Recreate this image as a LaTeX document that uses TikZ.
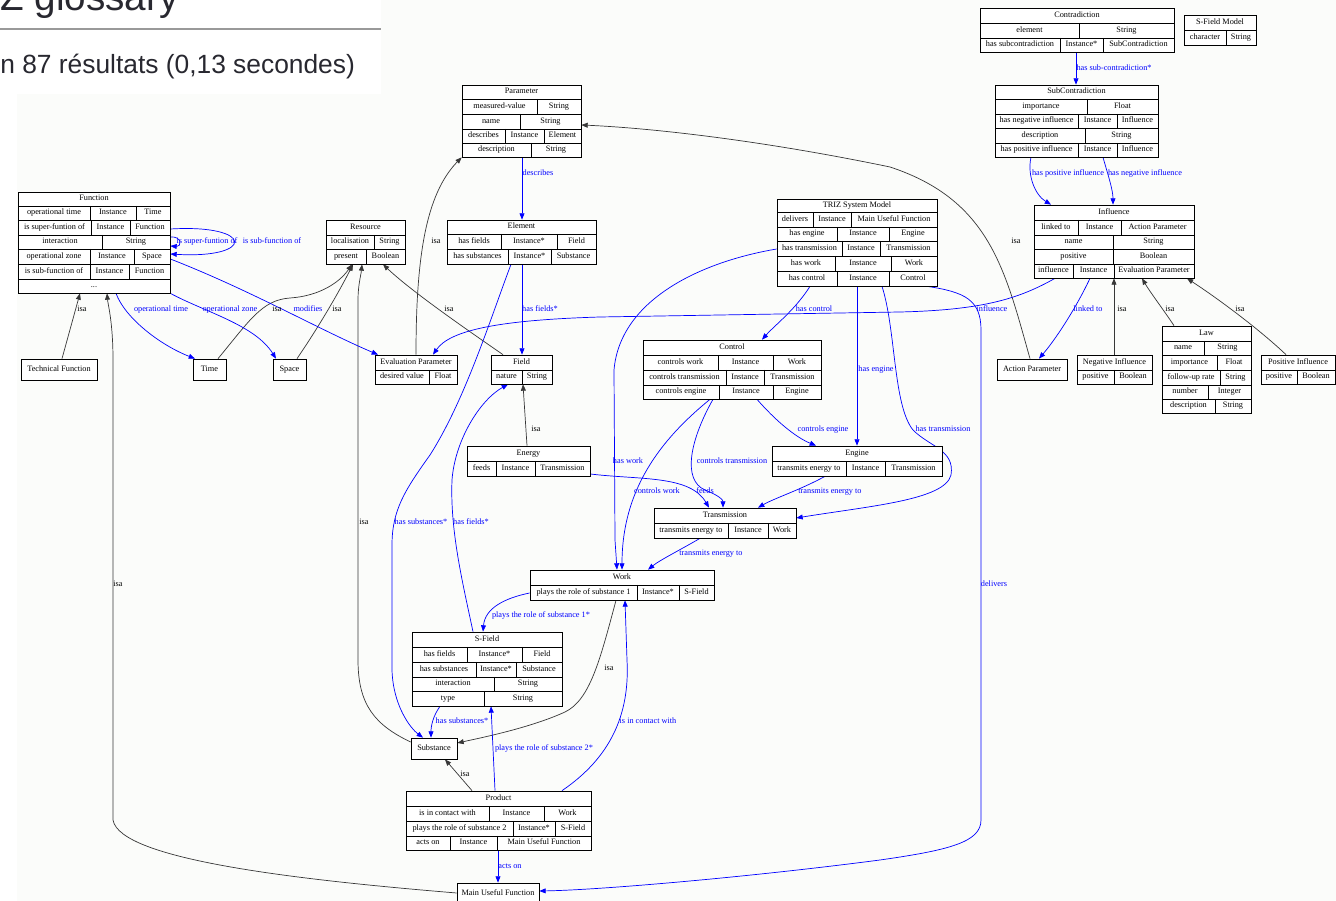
\documentclass[tikz,border=0pt]{standalone}
\usepackage{fontspec}
\setmainfont{Liberation Serif}
\newfontfamily\uisans{Liberation Sans}
\usetikzlibrary{fit,calc,arrows.meta}

\definecolor{pagebg}{RGB}{251,252,250}
\definecolor{edgeblue}{RGB}{0,0,255}
\definecolor{isagray}{RGB}{55,55,55}
\definecolor{headtext}{RGB}{40,40,48}

\newcount\cellno
\tikzset{
  cell/.style={inner sep=0pt, text height=3.3pt, text depth=1.1pt,
    font=\fontsize{4.7}{5.6}\selectfont, text=black},
  frame/.style={draw=black, line width=0.5pt, fill=white},
  prop/.style={draw=edgeblue, line width=0.4pt,
    -{Triangle[length=3.6pt,width=2.8pt]}},
  isa/.style={draw=isagray, line width=0.4pt,
    -{Triangle[length=3.6pt,width=2.8pt]}},
  lbl/.style={cell, text=edgeblue},
  isalbl/.style={cell, text=black},
}

% one text cell of a record
\newcommand\cellat[3]{\global\advance\cellno by 1\relax
  \node[cell] (cell-\the\cellno) at ({#1},{#2}) {#3};}
% record rows: one, two or three cells
\newcommand\rowI[5]{\draw[frame] (#1,#3) rectangle (#2,#4);
  \cellat{(#1+#2)/2}{(#3+#4)/2}{#5}}
\newcommand\rowII[7]{\draw[frame] (#1,#3) rectangle (#2,#4);
  \draw[frame] (#5,#3) -- (#5,#4);
  \cellat{(#1+#5)/2}{(#3+#4)/2}{#6}\cellat{(#5+#2)/2}{(#3+#4)/2}{#7}}
\newcommand\rowIII[9]{\draw[frame] (#1,#3) rectangle (#2,#4);
  \draw[frame] (#5,#3) -- (#5,#4) (#6,#3) -- (#6,#4);
  \cellat{(#1+#5)/2}{(#3+#4)/2}{#7}\cellat{(#5+#6)/2}{(#3+#4)/2}{#8}%
  \cellat{(#6+#2)/2}{(#3+#4)/2}{#9}}
% named outline of a whole record
\newcommand\recname[5]{\node[inner sep=0pt, fit={(#2,#3) (#4,#5)}] (#1) {};}

\begin{document}
\begin{tikzpicture}[x=0.02cm,y=-0.02cm]
\useasboundingbox (0,0) rectangle (1336,901);
\fill[white] (0,0) rectangle (1336,901);
\fill[pagebg] (17,94) rectangle (1336,901);
\fill[pagebg] (381,0) rectangle (1336,94);

% search page header
\begin{scope}
\clip (0,0) rectangle (381,94);
\node[inner sep=0pt, anchor=base west, text=headtext,
  font=\uisans\fontsize{22}{24}\selectfont] (hdtitle) at (0,11) {Z glossary};
\draw[black!40, line width=1.1pt] (0,29) -- (381,29);
\node[inner sep=0pt, anchor=base west, text=headtext,
  font=\uisans\fontsize{15}{17}\selectfont] (hdcount) at (0,74) {n 87 résultats (0,13 secondes)};
\end{scope}

% ---------- record outlines ----------
\recname{fn}{18}{192}{170}{293}
\recname{res}{326}{220}{405}{264}
\recname{param}{462}{85}{581}{157}
\recname{elem}{447}{220}{596}{264}
\recname{triz}{777}{199}{937}{286}
\recname{contr}{980}{8}{1174}{52}
\recname{sfm}{1184}{15}{1256}{45}
\recname{subc}{995}{85}{1158}{157}
\recname{infl}{1034}{205}{1194}{278}
\recname{tfn}{21}{359}{97}{380}
\recname{time}{193}{359}{226}{380}
\recname{space}{273}{359}{306}{380}
\recname{evalp}{375}{355}{457}{384}
\recname{field}{491}{355}{552}{384}
\recname{ctrl}{643}{340}{821}{399}
\recname{energy}{467}{446}{590}{476}
\recname{engine}{772}{446}{942}{476}
\recname{trans}{654}{508}{796}{538}
\recname{work}{530}{570}{714}{600}
\recname{sfield}{412}{632}{562}{706}
\recname{subst}{411}{738}{457}{759}
\recname{prod}{406}{791}{591}{850}
\recname{muf}{457}{883}{539}{905}
\recname{actp}{997}{359}{1067}{380}
\recname{neginf}{1077}{355}{1152}{384}
\recname{law}{1162}{326}{1251}{413}
\recname{posinf}{1261}{355}{1335}{384}

% ---------- isa links ----------
\draw[isa] (tfn.north -| 62,0) -- (fn.south -| 80,0);
\draw[isa] (muf.west |- 0,893) .. controls (300,880) and (120,860) .. (113,820)
  -- (113,360) .. controls (113,322) and (108,305) .. (fn.south -| 107,0);
\draw[isa] (time.north -| 218,0) .. controls (250,320) and (262,300) .. (290,298)
  .. controls (320,296) and (340,282) .. (res.south -| 352,0);
\draw[isa] (space.north -| 297,0) .. controls (320,325) and (340,290) .. (res.south -| 353,0);
\draw[isa] (subst.west |- 0,742) .. controls (375,725) and (358,705) .. (358,660)
  -- (358,300) .. controls (358,285) and (361,275) .. (res.south -| 362,0);
\draw[isa] (field.north -| 503,0) .. controls (460,325) and (410,290) .. (res.south -| 383,0);
\draw[isa] (evalp.north -| 416,0) .. controls (416,260) and (425,195) .. (param.south west);
\draw[isa] (actp.north -| 1030,0) .. controls (1005,270) and (990,200) .. (890,167)
  .. controls (760,140) and (650,128) .. (param.east |- 0,125);
\draw[isa] (energy.north -| 527,0) -- (field.south -| 523,0);
\draw[isa] (work.south -| 616,0) .. controls (600,660) and (590,700) .. (565,712)
  .. controls (530,728) and (480,738) .. (subst.east |- 0,743);
\draw[isa] (prod.north -| 472,0) -- (subst.south -| 445,0);
\draw[isa] (neginf.north -| 1114,0) -- (infl.south -| 1114,0);
\draw[isa] (law.north -| 1174,0) .. controls (1165,312) and (1150,292) .. (infl.south -| 1142,0);
\draw[isa] (posinf.north -| 1286,0) .. controls (1260,330) and (1220,300) .. (infl.south -| 1187,0);

% ---------- property links ----------
\draw[prop] (fn.east |- 0,229) .. controls (255,224) and (255,259) .. (fn.east |- 0,254);
\draw[prop] (fn.east |- 0,237) .. controls (182,236) and (182,247) .. (fn.east |- 0,246);
\draw[prop] (fn.south -| 116,0) .. controls (125,318) and (160,345) .. (time.north -| 195,0);
\draw[prop] (fn.south east) .. controls (205,312) and (255,325) .. (space.north -| 276,0);
\draw[prop] (fn.east |- 0,259) .. controls (250,290) and (320,330) .. (evalp.north -| 378,0);
\draw[prop] (param.south -| 522,0) -- (elem.north -| 522,0);
\draw[prop] (elem.south -| 522,0) -- (field.north -| 522,0);
\draw[prop] (elem.south -| 511,0) .. controls (490,320) and (465,400) .. (430,455)
  .. controls (405,490) and (392,510) .. (392,545) -- (392,670)
  .. controls (393,705) and (410,728) .. (subst.north -| 423,0);
\draw[prop] (sfield.north -| 473,0) .. controls (462,580) and (450,530) .. (452,480)
  .. controls (455,440) and (480,400) .. (field.south -| 508,0);
\draw[prop] (triz.west |- 0,249) .. controls (700,262) and (620,300) .. (614,370)
  -- (615,540) -- (work.north -| 617,0);
\draw[prop] (ctrl.south -| 710,0) .. controls (660,440) and (622,490) .. (work.north -| 622,0);
\draw[prop] (ctrl.south -| 713,0) .. controls (690,440) and (682,480) .. (705,490)
  .. controls (720,496) and (723,500) .. (trans.north -| 723,0);
\draw[prop] (energy.east |- 0,474) .. controls (640,480) and (690,475) .. (trans.north -| 709,0);
\draw[prop] (ctrl.south -| 757,0) .. controls (775,420) and (795,437) .. (engine.north -| 816,0);
\draw[prop] (triz.south -| 857,0) -- (engine.north -| 857,0);
\draw[prop] (triz.south -| 810,0) .. controls (795,310) and (775,325) .. (ctrl.north -| 762,0);
\draw[prop] (triz.south -| 882,0) .. controls (896,330) and (893,405) .. (913,430)
  .. controls (930,447) and (955,450) .. (951,475)
  .. controls (945,500) and (870,506) .. (trans.east |- 0,518);
\draw[prop] (triz.south -| 927,0) .. controls (965,292) and (981,300) .. (981,330)
  -- (981,820) .. controls (981,842) and (950,850) .. (880,860)
  .. controls (750,877) and (600,890) .. (muf.east |- 0,891);
\draw[prop] (infl.south -| 1055,0) .. controls (1020,298) and (985,310) .. (900,312)
  -- (600,317) .. controls (500,320) and (450,330) .. (evalp.north -| 433,0);
\draw[prop] (infl.south -| 1090,0) .. controls (1075,310) and (1055,340) .. (actp.north -| 1039,0);
\draw[prop] (engine.south -| 825,0) .. controls (800,490) and (775,498) .. (trans.north -| 758,0);
\draw[prop] (trans.south -| 700,0) .. controls (680,550) and (660,560) .. (work.north -| 648,0);
\draw[prop] (work.west |- 0,593) .. controls (505,598) and (485,608) .. (sfield.north -| 483,0);
\draw[prop] (prod.north -| 495,0) -- (sfield.south -| 491,0);
\draw[prop] (prod.north -| 562,0) .. controls (610,758) and (630,715) .. (627,660) -- (work.south -| 625,0);
\draw[prop] (sfield.south -| 440,0) .. controls (433,716) and (431,726) .. (subst.north -| 431,0);
\draw[prop] (prod.south -| 498,0) -- (muf.north -| 498,0);
\draw[prop] (contr.south -| 1076,0) -- (subc.north -| 1076,0);
\draw[prop] (subc.south -| 1031,0) .. controls (1027,175) and (1035,195) .. (infl.north -| 1051,0);
\draw[prop] (subc.south -| 1103,0) .. controls (1108,175) and (1113,190) .. (infl.north -| 1113,0);

% ---------- link labels ----------
\node[isalbl] (l-isa-tf) at (82,310) {isa};
\node[isalbl] (l-isa-muf) at (118,585) {isa};
\node[isalbl] (l-isa-time) at (277,310) {isa};
\node[isalbl] (l-isa-space) at (337,310) {isa};
\node[isalbl] (l-isa-subst) at (364,523) {isa};
\node[isalbl] (l-isa-field) at (449,310) {isa};
\node[isalbl] (l-isa-eval) at (436,242) {isa};
\node[isalbl] (l-isa-act) at (1016,242) {isa};
\node[isalbl] (l-isa-energy) at (536,430) {isa};
\node[isalbl] (l-isa-work) at (609,669) {isa};
\node[isalbl] (l-isa-prod) at (465,775) {isa};
\node[isalbl] (l-isa-neg) at (1122,310) {isa};
\node[isalbl] (l-isa-law) at (1170,310) {isa};
\node[isalbl] (l-isa-pos) at (1240,310) {isa};

\node[lbl] (l-super) at (207,242) {is super-funtion of};
\node[lbl] (l-sub) at (272,242) {is sub-function of};
\node[lbl] (l-optime) at (161,310) {operational time};
\node[lbl] (l-opzone) at (230,310) {operational zone};
\node[lbl] (l-modifies) at (308,310) {modifies};
\node[lbl] (l-describes) at (538,174) {describes};
\node[lbl] (l-fields1) at (540,310) {has fields*};
\node[lbl] (l-subst1) at (421,523) {has substances*};
\node[lbl] (l-fields2) at (471,523) {has fields*};
\node[lbl] (l-work) at (628,462) {has work};
\node[lbl] (l-cwork) at (657,492) {controls work};
\node[lbl] (l-ctrans) at (732,462) {controls transmission};
\node[lbl] (l-feeds) at (705,492) {feeds};
\node[lbl] (l-cengine) at (823,430) {controls engine};
\node[lbl] (l-engine) at (876,370) {has engine};
\node[lbl] (l-control) at (814,310) {has control};
\node[lbl] (l-trans) at (943,430) {has transmission};
\node[lbl] (l-delivers) at (994,585) {delivers};
\node[lbl] (l-influence) at (992,310) {influence};
\node[lbl] (l-linked) at (1088,310) {linked to};
\node[lbl] (l-te1) at (830,492) {transmits energy to};
\node[lbl] (l-te2) at (711,554) {transmits energy to};
\node[lbl] (l-role1) at (541,616) {plays the role of substance 1*};
\node[lbl] (l-role2) at (544,749) {plays the role of substance 2*};
\node[lbl] (l-contact) at (648,722) {is in contact with};
\node[lbl] (l-subst2) at (462,722) {has substances*};
\node[lbl] (l-acts) at (510,867) {acts on};
\node[lbl] (l-subcontr) at (1114,69) {has sub-contradiction*};
\node[lbl] (l-posinf) at (1068,174) {has positive influence};
\node[lbl] (l-neginf) at (1145,174) {has negative influence};

% ---------- records ----------
% Function
\rowI{18}{170}{192}{206}{Function}
\rowIII{18}{170}{206}{220}{90}{136}{operational time}{Instance}{Time}
\rowIII{18}{170}{220}{235}{91}{130}{is super-funtion of}{Instance}{Function}
\rowII{18}{170}{235}{249}{102}{interaction}{String}
\rowIII{18}{170}{249}{264}{90}{134}{operational zone}{Instance}{Space}
\rowIII{18}{170}{264}{279}{90}{129}{is sub-function of}{Instance}{Function}
\rowI{18}{170}{279}{293}{...}
% Resource
\rowI{326}{405}{220}{235}{Resource}
\rowII{326}{405}{235}{249}{374}{localisation}{String}
\rowII{326}{405}{249}{264}{366}{present}{Boolean}
% Parameter
\rowI{462}{581}{85}{99}{Parameter}
\rowII{462}{581}{99}{114}{537}{measured-value}{String}
\rowII{462}{581}{114}{129}{520}{name}{String}
\rowIII{462}{581}{129}{143}{505}{544}{describes}{Instance}{Element}
\rowII{462}{581}{143}{157}{531}{description}{String}
% Element
\rowI{447}{596}{220}{234}{Element}
\rowIII{447}{596}{234}{249}{501}{557}{has fields}{Instance*}{Field}
\rowIII{447}{596}{249}{264}{508}{551}{has substances}{Instance*}{Substance}
% TRIZ System Model
\rowI{777}{937}{199}{212}{TRIZ System Model}
\rowIII{777}{937}{212}{227}{813}{851}{delivers}{Instance}{Main Useful Function}
\rowIII{777}{937}{227}{241}{837}{889}{has engine}{Instance}{Engine}
\rowIII{777}{937}{241}{256}{842}{880}{has transmission}{Instance}{Transmission}
\rowIII{777}{937}{256}{271}{835}{891}{has work}{Instance}{Work}
\rowIII{777}{937}{271}{286}{837}{889}{has control}{Instance}{Control}
% Contradiction
\rowI{980}{1174}{8}{23}{Contradiction}
\rowII{980}{1174}{23}{38}{1079}{element}{String}
\rowIII{980}{1174}{38}{52}{1060}{1103}{has subcontradiction}{Instance*}{SubContradiction}
% S-Field Model
\rowI{1184}{1256}{15}{30}{S-Field Model}
\rowII{1184}{1256}{30}{45}{1226}{character}{String}
% SubContradiction
\rowI{995}{1158}{85}{99}{SubContradiction}
\rowII{995}{1158}{99}{114}{1087}{importance}{Float}
\rowIII{995}{1158}{114}{128}{1078}{1117}{has negative influence}{Instance}{Influence}
\rowII{995}{1158}{128}{143}{1085}{description}{String}
\rowIII{995}{1158}{143}{157}{1078}{1117}{has positive influence}{Instance}{Influence}
% Influence
\rowI{1034}{1194}{205}{220}{Influence}
\rowIII{1034}{1194}{220}{235}{1078}{1121}{linked to}{Instance}{Action Parameter}
\rowII{1034}{1194}{235}{249}{1113}{name}{String}
\rowII{1034}{1194}{249}{264}{1113}{positive}{Boolean}
\rowIII{1034}{1194}{264}{278}{1073}{1114}{influence}{Instance}{Evaluation Parameter}
% single-cell classes
\rowI{21}{97}{359}{380}{Technical Function}
\rowI{193}{226}{359}{380}{Time}
\rowI{273}{306}{359}{380}{Space}
\rowI{997}{1067}{359}{380}{Action Parameter}
\rowI{411}{457}{738}{759}{Substance}
\rowI{457}{539}{883}{905}{Main Useful Function}
% Evaluation Parameter
\rowI{375}{457}{355}{370}{Evaluation Parameter}
\rowII{375}{457}{370}{384}{429}{desired value}{Float}
% Field
\rowI{491}{552}{355}{370}{Field}
\rowII{491}{552}{370}{384}{522}{nature}{String}
% Control
\rowI{643}{821}{340}{355}{Control}
\rowIII{643}{821}{355}{370}{718}{773}{controls work}{Instance}{Work}
\rowIII{643}{821}{370}{385}{726}{764}{controls transmission}{Instance}{Transmission}
\rowIII{643}{821}{385}{399}{719}{773}{controls engine}{Instance}{Engine}
% Energy
\rowI{467}{590}{446}{461}{Energy}
\rowIII{467}{590}{461}{476}{496}{535}{feeds}{Instance}{Transmission}
% Engine
\rowI{772}{942}{446}{461}{Engine}
\rowIII{772}{942}{461}{476}{846}{885}{transmits energy to}{Instance}{Transmission}
% Transmission
\rowI{654}{796}{508}{523}{Transmission}
\rowIII{654}{796}{523}{538}{728}{768}{transmits energy to}{Instance}{Work}
% Work
\rowI{530}{714}{570}{585}{Work}
\rowIII{530}{714}{585}{600}{637}{679}{plays the role of substance 1}{Instance*}{S-Field}
% S-Field
\rowI{412}{562}{632}{647}{S-Field}
\rowIII{412}{562}{647}{662}{467}{522}{has fields}{Instance*}{Field}
\rowIII{412}{562}{662}{677}{476}{516}{has substances}{Instance*}{Substance}
\rowII{412}{562}{677}{691}{494}{interaction}{String}
\rowII{412}{562}{691}{706}{484}{type}{String}
% Product
\rowI{406}{591}{791}{806}{Product}
\rowIII{406}{591}{806}{821}{489}{544}{is in contact with}{Instance}{Work}
\rowIII{406}{591}{821}{836}{513}{555}{plays the role of substance 2}{Instance*}{S-Field}
\rowIII{406}{591}{836}{850}{450}{497}{acts on}{Instance}{Main Useful Function}
% Negative Influence
\rowI{1077}{1152}{355}{370}{Negative Influence}
\rowII{1077}{1152}{370}{384}{1114}{positive}{Boolean}
% Law
\rowI{1162}{1251}{326}{341}{Law}
\rowII{1162}{1251}{341}{355}{1204}{name}{String}
\rowII{1162}{1251}{355}{370}{1217}{importance}{Float}
\rowII{1162}{1251}{370}{385}{1220}{follow-up rate}{String}
\rowII{1162}{1251}{385}{399}{1208}{number}{Integer}
\rowII{1162}{1251}{399}{413}{1215}{description}{String}
% Positive Influence
\rowI{1261}{1335}{355}{370}{Positive Influence}
\rowII{1261}{1335}{370}{384}{1297}{positive}{Boolean}
\end{tikzpicture}
\end{document}
